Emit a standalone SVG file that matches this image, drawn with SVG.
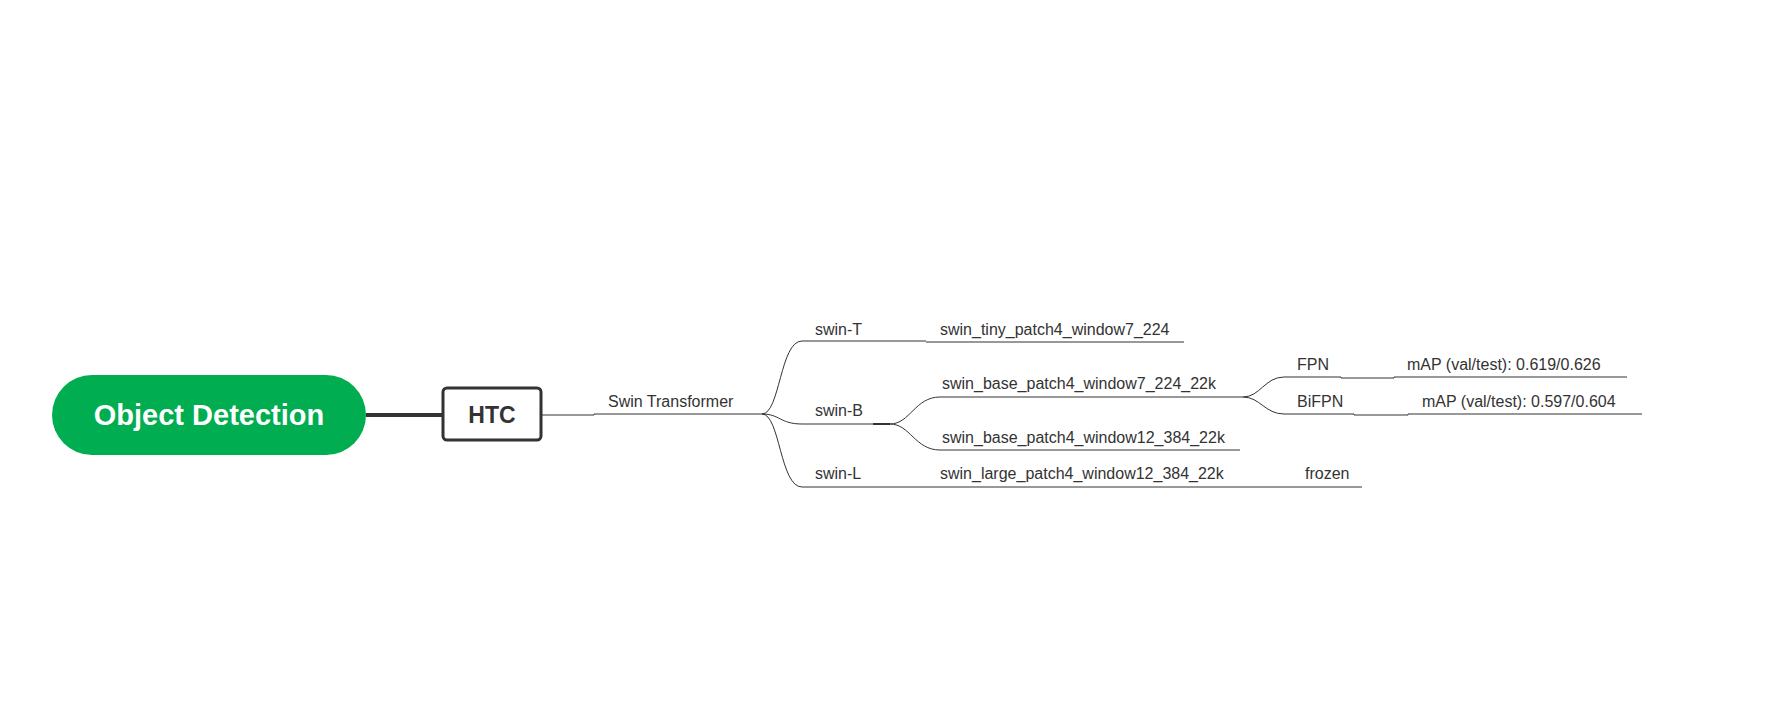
<svg xmlns="http://www.w3.org/2000/svg" width="1788" height="712" viewBox="0 0 1788 712">
<style>
text{font-family:"Liberation Sans",Arial,sans-serif;fill:#333;font-size:16px}
.c{fill:none;stroke:#333;stroke-width:1}
</style>
<rect width="1788" height="712" fill="#fff"/>
<g id="connectors">
<line x1="366" y1="415" x2="442" y2="415" stroke="#333" stroke-width="4"/>
<path class="c" d="M541 415H594V414H762"/>
<path class="c" d="M762 414C780 414 780 341 802 341H926M762 414C780 414 780 424 802 424H873M762 414C780 414 780 487 802 487H1362"/>
<line x1="873" y1="424" x2="890" y2="424" stroke="#333" stroke-width="2"/>
<path class="c" d="M926 342H1184"/>
<path class="c" d="M890 424C910 424 915 397 940 397H1243M890 424C910 424 915 450 940 450H1240"/>
<path class="c" d="M1243 397C1260 397 1265 377 1284 377H1341V378H1394V377H1627M1243 397C1260 397 1265 414 1284 414H1354V415H1408V414H1642"/>
</g>
<g id="root"><rect x="52" y="375" width="314" height="80" rx="40" fill="#00ad50"/><text x="209" y="425" text-anchor="middle" style="font-size:29px;font-weight:bold;fill:#fff">Object Detection</text></g>
<g id="htc"><rect x="443" y="388" width="98" height="52" rx="4" fill="#fff" stroke="#333" stroke-width="3"/><text x="492" y="423" text-anchor="middle" style="font-size:23px;font-weight:bold">HTC</text></g>
<g id="swin"><text x="608" y="407">Swin Transformer</text></g>
<g id="swinT"><text x="815" y="335">swin-T</text></g>
<g id="tiny"><text x="940" y="335">swin_tiny_patch4_window7_224</text></g>
<g id="swinB"><text x="815" y="416">swin-B</text></g>
<g id="base7"><text x="942" y="389">swin_base_patch4_window7_224_22k</text></g>
<g id="base12"><text x="942" y="443">swin_base_patch4_window12_384_22k</text></g>
<g id="fpn"><text x="1297" y="370">FPN</text></g>
<g id="fpnmap"><text x="1407" y="370">mAP (val/test): 0.619/0.626</text></g>
<g id="bifpn"><text x="1297" y="407">BiFPN</text></g>
<g id="bifpnmap"><text x="1422" y="407">mAP (val/test): 0.597/0.604</text></g>
<g id="swinL"><text x="815" y="479">swin-L</text></g>
<g id="large"><text x="940" y="479">swin_large_patch4_window12_384_22k</text></g>
<g id="frozen"><text x="1305" y="479">frozen</text></g>
</svg>
